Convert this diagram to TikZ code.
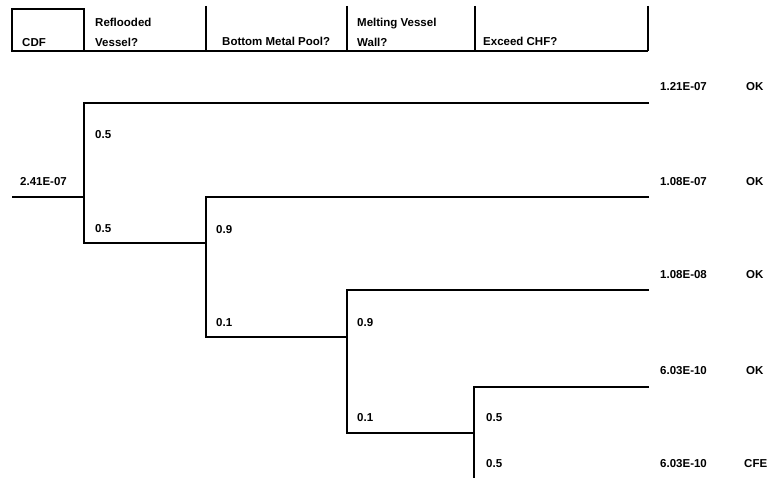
\documentclass[tikz,border=0pt]{standalone}
\usepackage{fontspec}
\setmainfont{Liberation Sans}
\usetikzlibrary{positioning}

\begin{document}
\begin{tikzpicture}[x=1pt, y=-1pt,
  heading/.style={anchor=base west, inner sep=0pt, font=\fontsize{11.5}{13}\selectfont\bfseries},
  prob/.style={anchor=base west, inner sep=0pt, font=\fontsize{11.5}{13}\selectfont\bfseries},
  outcome/.style={anchor=base west, inner sep=0pt, font=\fontsize{11.5}{13}\selectfont\bfseries},
  rule/.style={line width=1.6pt, line join=miter},
  branch/.style={line width=1.8pt, line join=miter}
]
  \useasboundingbox (0,0) rectangle (772,478);

  % header boxes
  \coordinate (hleft) at (12,51);
  \coordinate (hright) at (648,51);
  \draw[rule] (12,9) rectangle (84,51);
  \draw[rule] (hleft) -- (hright);
  \draw[rule] (206,6) -- (206,51);
  \draw[rule] (347,6) -- (347,51);
  \draw[rule] (475,6) -- (475,51);
  \draw[rule] (648,6) -- (hright);

  \node[heading] (cdfhead) at (22,47) {CDF};
  \node[heading] (reflhead) at (95,27) {Reflooded};
  \node[heading] (reflhead2) at (95,47) {Vessel?};
  \node[heading] (poolhead) at (222,46) {Bottom Metal Pool?};
  \node[heading] (wallhead) at (357,27) {Melting Vessel};
  \node[heading] (wallhead2) at (357,47) {Wall?};
  \node[heading] (chfhead) at (483,46) {Exceed CHF?};

  % tree points
  \coordinate (start) at (12,197);
  \coordinate (q1) at (84,197);
  \coordinate (q1up) at (84,103);
  \coordinate (q1dn) at (84,243);
  \coordinate (q2) at (206,243);
  \coordinate (q2up) at (206,197);
  \coordinate (q2dn) at (206,337);
  \coordinate (q3) at (347,337);
  \coordinate (q3up) at (347,290);
  \coordinate (q3dn) at (347,433);
  \coordinate (q4) at (474,433);
  \coordinate (q4up) at (474,387);
  \coordinate (q4dn) at (474,478);
  \coordinate (e1) at (649,103);
  \coordinate (e2) at (649,197);
  \coordinate (e3) at (649,290);
  \coordinate (e4) at (649,387);

  \draw[branch] (start) -- (q1);
  \draw[branch] (e1) -- (q1up) -- (q1dn) -- (q2);
  \draw[branch] (e2) -- (q2up) -- (q2dn) -- (q3);
  \draw[branch] (e3) -- (q3up) -- (q3dn) -- (q4);
  \draw[branch] (e4) -- (q4up) -- (q4dn);

  \node[prob] (cdfval) at (20,186) {2.41E-07};

  \node[prob] (p1a) at (95,139) {0.5};
  \node[prob] (p1b) at (95,233) {0.5};
  \node[prob] (p2a) at (216,234) {0.9};
  \node[prob] (p2b) at (216,327) {0.1};
  \node[prob] (p3a) at (357,327) {0.9};
  \node[prob] (p3b) at (357,422) {0.1};
  \node[prob] (p4a) at (486,422) {0.5};
  \node[prob] (p4b) at (486,468) {0.5};

  % end states
  \node[outcome] (v1) at (660,91) {1.21E-07};
  \node[outcome] (v2) at (660,186) {1.08E-07};
  \node[outcome] (v3) at (660,279) {1.08E-08};
  \node[outcome] (v4) at (660,375) {6.03E-10};
  \node[outcome] (v5) at (660,468) {6.03E-10};
  \node[outcome] (o1) at (746,91) {OK};
  \node[outcome] (o2) at (746,186) {OK};
  \node[outcome] (o3) at (746,279) {OK};
  \node[outcome] (o4) at (746,375) {OK};
  \node[outcome] (o5) at (744,468) {CFE};
\end{tikzpicture}
\end{document}
